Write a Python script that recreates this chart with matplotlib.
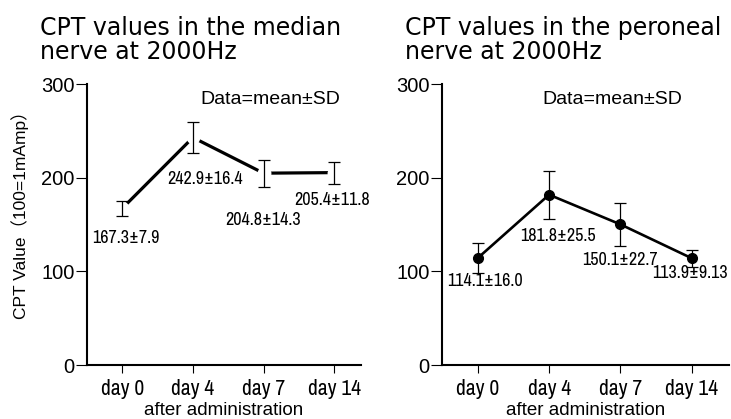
import numpy as np
import matplotlib
matplotlib.use('Agg')
import matplotlib.pyplot as plt
from matplotlib import font_manager

# data
days = ['day 0', 'day 4', 'day 7', 'day 14']
median_mean = [167.3, 242.9, 204.8, 205.4]
median_sd = [7.9, 16.4, 14.3, 11.8]
median_labels = ['167.3±7.9', '242.9±16.4', '204.8±14.3', '205.4±11.8']
peroneal_mean = [114.1, 181.8, 150.1, 113.9]
peroneal_sd = [16.0, 25.5, 22.7, 9.13]
peroneal_labels = ['114.1±16.0', '181.8±25.5', '150.1±22.7', '113.9±9.13']
yticks = [0, 100, 200, 300]

# label anchor points (data coords) for the mean±SD texts
median_lab_x = [0.05, 1.17, 2.0, 2.97]
median_lab_y = [136, 199, 155, 176]
peroneal_lab_x = [0.1, 1.12, 1.99, 2.97]
peroneal_lab_y = [90, 138, 112, 98]

# look for a condensed face, else plain Liberation Sans
names = sorted(set(f.name for f in font_manager.fontManager.ttflist))
cond = [n for n in names if 'Condensed' in n or 'Narrow' in n]
narrow = cond[:1] + ['Liberation Sans', 'DejaVu Sans']
plain = ['Liberation Sans', 'Noto Sans CJK JP', 'DejaVu Sans']

W, H = 731, 419
fig = plt.figure(figsize=(W / 100, H / 100), dpi=100)


def make_axes(x0, x1, xmax, data_x):
    ax = fig.add_axes([x0 / W, 1 - 365 / H, (x1 - x0) / W, (365 - 84) / H])
    ax.set_xlim(-0.5, xmax)
    ax.set_ylim(0, 300)
    for s in ['top', 'right']:
        ax.spines[s].set_visible(False)
    for s in ['left', 'bottom']:
        ax.spines[s].set_linewidth(1.5)
    ax.set_xticks(range(len(days)))
    ax.set_xticklabels(days, fontsize=15.5, family=narrow, stretch='condensed')
    ax.set_yticks(yticks)
    ax.set_yticklabels([str(v) for v in yticks], fontsize=14.5, family=plain)
    ax.tick_params(axis='y', direction='out', length=8, width=0.8, pad=1)
    ax.tick_params(axis='x', direction='out', length=6, width=0.8, pad=4)
    ax.set_xlabel('after administration', fontsize=13.5, family=plain)
    ax.xaxis.set_label_coords(0.5, -0.193)
    ax.xaxis.label.set_va('bottom')
    ax.text(data_x, 283, 'Data=mean±SD', fontsize=14, family=plain,
            ha='center', va='center')
    return ax


# left: median nerve
ax1 = make_axes(87, 361, 3.38, 2.09)
x = np.arange(len(days))
ax1.plot(x, median_mean, color='black', lw=2.3, zorder=2)
ax1.plot(x, median_mean, 'o', ms=10, mfc='white', mec='none', zorder=3)
ax1.errorbar(x, median_mean, yerr=median_sd, fmt='none', ecolor='black',
             elinewidth=0.9, capsize=4.5, capthick=0.9, zorder=4)
for lx, ly, t in zip(median_lab_x, median_lab_y, median_labels):
    ax1.text(lx, ly, t, fontsize=13, family=narrow, stretch='condensed',
             ha='center', va='center')
ax1.set_ylabel('CPT Value（100=1mAmp）', fontsize=12.5, family=plain)
ax1.yaxis.set_label_coords(-0.21, 0.55)

# right: peroneal nerve
ax2 = make_axes(442, 729, 3.52, 1.88)
ax2.errorbar(x, peroneal_mean, yerr=peroneal_sd, fmt='o-', color='black',
             lw=1.9, ms=7, elinewidth=0.9, capsize=4.5, capthick=0.9)
for lx, ly, t in zip(peroneal_lab_x, peroneal_lab_y, peroneal_labels):
    ax2.text(lx, ly, t, fontsize=13, family=narrow, stretch='condensed',
             ha='center', va='center')

# titles
fig.text(40 / W, 1 - 16 / H, 'CPT values in the median\nnerve at 2000Hz',
         fontsize=17, family='DejaVu Sans', ha='left', va='top', linespacing=1.0)
fig.text(405 / W, 1 - 16 / H, 'CPT values in the peroneal\nnerve at 2000Hz',
         fontsize=17, family='DejaVu Sans', ha='left', va='top', linespacing=1.0)

fig.savefig('out.png', dpi=100)
